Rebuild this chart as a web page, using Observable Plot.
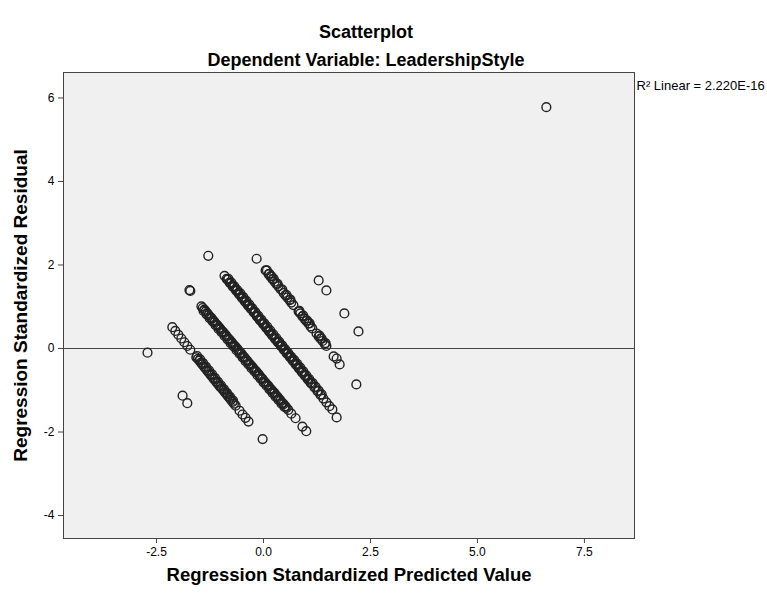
<!DOCTYPE html>
<html><head><meta charset="utf-8">
<script src="https://cdn.jsdelivr.net/npm/d3@7"></script>
<script src="https://cdn.jsdelivr.net/npm/@observablehq/plot@0.6"></script>
<style>
body{margin:0;background:#fff;font-family:"Liberation Sans",Arial,sans-serif;}
#wrap{position:relative;width:767px;height:595px;}
.t{position:absolute;left:0;width:732px;text-align:center;font-weight:bold;font-size:18px;line-height:20px;color:#000;}
#chart{position:absolute;left:0;top:66px;}
</style></head><body>
<div id="wrap">
<div class="t" style="top:22px">Scatterplot</div>
<div class="t" style="top:50px">Dependent Variable: LeadershipStyle</div>
<div id="chart"></div>
</div>
<script>
const xTicks = [-2.5, 0, 2.5, 5, 7.5];
const yTicks = [-4, -2, 0, 2, 4, 6];
const xLabel = "Regression Standardized Predicted Value";
const yLabel = "Regression Standardized Residual";
const r2Label = "R² Linear = 2.220E-16";

const groupA_x = [1.29, 1.47, 1.89, 2.22];
const groupA_y = [1.63, 1.39, 0.84, 0.41];

const groupB_x = [-0.16, 0.05, 0.08, 0.12, 0.14, 0.16, 0.19, 0.21, 0.24, 0.26, 0.30, 0.33, 0.35, 0.40, 0.44, 0.47, 0.51, 0.54, 0.56, 0.61, 0.63, 0.65, 0.70, 0.82, 0.84, 0.86, 0.91, 0.93, 0.96, 1.00, 1.02, 1.05, 1.08, 1.10, 1.14, 1.24, 1.29, 1.31, 1.33, 1.36, 1.38, 1.43, 1.45, 1.47, 1.64, 1.71, 1.78, 2.17];
const groupB_y = [2.15, 1.87, 1.87, 1.78, 1.79, 1.73, 1.73, 1.66, 1.67, 1.60, 1.55, 1.55, 1.49, 1.42, 1.41, 1.33, 1.28, 1.28, 1.22, 1.16, 1.17, 1.10, 1.04, 0.89, 0.90, 0.84, 0.77, 0.79, 0.71, 0.66, 0.67, 0.60, 0.60, 0.53, 0.48, 0.36, 0.29, 0.31, 0.24, 0.24, 0.18, 0.11, 0.13, 0.06, -0.19, -0.24, -0.38, -0.86];

const groupC_x = [-1.29, -0.91, -0.86, -0.84, -0.79, -0.77, -0.72, -0.70, -0.65, -0.63, -0.58, -0.56, -0.51, -0.49, -0.44, -0.42, -0.37, -0.35, -0.30, -0.28, -0.23, -0.21, -0.16, -0.14, -0.09, -0.07, -0.02, 0.00, 0.05, 0.07, 0.12, 0.14, 0.19, 0.21, 0.26, 0.28, 0.33, 0.35, 0.40, 0.42, 0.47, 0.49, 0.54, 0.56, 0.61, 0.63, 0.68, 0.70, 0.75, 0.77, 0.82, 0.84, 0.89, 0.91, 0.96, 0.98, 1.03, 1.05, 1.10, 1.12, 1.19, 1.26, 1.33, 1.40, 1.47, 1.54, 1.61, 1.71];
const groupC_y = [2.22, 1.74, 1.67, 1.65, 1.58, 1.56, 1.49, 1.47, 1.41, 1.38, 1.32, 1.29, 1.23, 1.20, 1.14, 1.11, 1.05, 1.02, 0.96, 0.94, 0.87, 0.85, 0.78, 0.76, 0.69, 0.67, 0.61, 0.58, 0.52, 0.49, 0.43, 0.40, 0.34, 0.31, 0.25, 0.22, 0.16, 0.14, 0.07, 0.05, -0.02, -0.04, -0.11, -0.13, -0.19, -0.22, -0.28, -0.31, -0.37, -0.40, -0.46, -0.49, -0.55, -0.58, -0.64, -0.66, -0.73, -0.75, -0.82, -0.84, -0.93, -1.02, -1.11, -1.20, -1.29, -1.38, -1.46, -1.65];
const groupC2_x = [-0.82, -0.75, -0.68, -0.61, -0.54, -0.47, -0.40, -0.33, -0.26, -0.19, -0.12, -0.05, 0.02, 0.09, 0.16, 0.23, 0.30, 0.37, 0.44, 0.51, 0.58, 0.65, 0.72, 0.79, 0.86, 0.93, 1.00, 1.07, 1.15, 1.22, 1.29, 1.36];
const groupC2_y = [1.67, 1.58, 1.49, 1.40, 1.32, 1.23, 1.14, 1.05, 0.96, 0.87, 0.78, 0.69, 0.60, 0.52, 0.43, 0.34, 0.25, 0.16, 0.07, -0.02, -0.11, -0.20, -0.28, -0.37, -0.46, -0.55, -0.64, -0.73, -0.83, -0.92, -1.01, -1.10];

const groupD_x = [-1.73, -1.71, -1.45, -1.42, -1.38, -1.35, -1.31, -1.28, -1.24, -1.21, -1.17, -1.14, -1.10, -1.07, -1.03, -1.00, -0.96, -0.93, -0.89, -0.86, -0.82, -0.79, -0.75, -0.72, -0.68, -0.65, -0.61, -0.58, -0.54, -0.51, -0.47, -0.44, -0.40, -0.37, -0.33, -0.30, -0.26, -0.23, -0.19, -0.16, -0.12, -0.09, -0.05, -0.02, 0.02, 0.05, 0.09, 0.12, 0.16, 0.19, 0.23, 0.26, 0.30, 0.33, 0.37, 0.40, 0.44, 0.47, 0.51, 0.54, 0.58, 0.65, 0.75, 0.91, 1.00];
const groupD_y = [1.40, 1.38, 1.01, 0.97, 0.93, 0.89, 0.84, 0.80, 0.75, 0.72, 0.67, 0.63, 0.58, 0.55, 0.50, 0.46, 0.41, 0.38, 0.33, 0.29, 0.24, 0.21, 0.16, 0.12, 0.07, 0.04, -0.01, -0.05, -0.10, -0.13, -0.19, -0.22, -0.27, -0.31, -0.36, -0.39, -0.44, -0.48, -0.53, -0.56, -0.61, -0.65, -0.70, -0.73, -0.79, -0.82, -0.87, -0.90, -0.96, -0.99, -1.04, -1.07, -1.13, -1.16, -1.21, -1.25, -1.30, -1.33, -1.38, -1.42, -1.47, -1.56, -1.67, -1.87, -1.98];
const groupD2_x = [-1.40, -1.33, -1.26, -1.19, -1.12, -1.05, -0.98, -0.91, -0.84, -0.77, -0.70, -0.63, -0.56, -0.49, -0.42, -0.35, -0.28, -0.21, -0.14, -0.07, 0.00, 0.07, 0.14, 0.21, 0.28, 0.35, 0.42, 0.49];
const groupD2_y = [0.90, 0.82, 0.73, 0.65, 0.56, 0.47, 0.39, 0.30, 0.22, 0.13, 0.05, -0.04, -0.12, -0.21, -0.30, -0.38, -0.47, -0.55, -0.64, -0.72, -0.81, -0.89, -0.98, -1.06, -1.15, -1.23, -1.32, -1.40];

const groupE_x = [-2.13, -2.06, -1.99, -1.92, -1.85, -1.78, -1.71, -1.57, -1.53, -1.50, -1.46, -1.43, -1.39, -1.36, -1.32, -1.29, -1.25, -1.22, -1.18, -1.15, -1.11, -1.08, -1.04, -1.01, -0.97, -0.93, -0.90, -0.86, -0.83, -0.79, -0.76, -0.72, -0.69, -0.65, -0.56, -0.49, -0.42, -0.35, -0.02];
const groupE_y = [0.51, 0.42, 0.33, 0.24, 0.15, 0.06, -0.03, -0.21, -0.25, -0.29, -0.34, -0.38, -0.43, -0.47, -0.52, -0.56, -0.61, -0.65, -0.70, -0.74, -0.79, -0.83, -0.88, -0.92, -0.96, -1.01, -1.05, -1.10, -1.14, -1.19, -1.23, -1.28, -1.32, -1.37, -1.49, -1.58, -1.66, -1.75, -2.17];
const groupE2_x = [-1.55, -1.48, -1.41, -1.34, -1.27, -1.20, -1.13, -1.06, -0.99, -0.92, -0.85, -0.78, -0.71];
const groupE2_y = [-0.18, -0.26, -0.35, -0.44, -0.53, -0.62, -0.71, -0.80, -0.89, -0.98, -1.07, -1.16, -1.25];

const groupF_x = [-2.71, -1.89, -1.78];
const groupF_y = [-0.10, -1.13, -1.31];

const outlier_x = [6.61];
const outlier_y = [5.78];

const groups = [
  [groupA_x, groupA_y], [groupB_x, groupB_y], [groupC_x, groupC_y], [groupC2_x, groupC2_y],
  [groupD_x, groupD_y], [groupD2_x, groupD2_y], [groupE_x, groupE_y], [groupE2_x, groupE2_y],
  [groupF_x, groupF_y], [outlier_x, outlier_y]
];
const points = [];
for (const [xs, ys] of groups) xs.forEach((x, i) => points.push({x, y: ys[i]}));

const plot = Plot.plot({
  width: 767,
  height: 529,
  marginTop: 6,
  marginBottom: 57,
  marginLeft: 63,
  marginRight: 133,
  style: {fontFamily: "'Liberation Sans', Arial, sans-serif", fontSize: "12px", color: "#000", background: "transparent", overflow: "visible"},
  x: {domain: [-4.673, 8.67]},
  y: {domain: [-4.55, 6.61]},
  marks: [
    Plot.frame({fill: "#f0f0f0", stroke: null}),
    Plot.ruleY([0], {stroke: "#444", strokeWidth: 1}),
    Plot.dot(points, {x: "x", y: "y", r: 4.4, stroke: "#222", strokeWidth: 1.4, fill: "none"}),
    Plot.frame({stroke: "#444", strokeWidth: 1}),
    Plot.axisX({ticks: xTicks, tickFormat: d => d.toFixed(1), tickSize: 5, tickPadding: 4, fontSize: 12, label: null, stroke: "#444"}),
    Plot.axisY({ticks: yTicks, tickFormat: d => String(d), tickSize: 5, tickPadding: 4, fontSize: 12, label: null, stroke: "#444"}),
    Plot.text([xLabel], {frameAnchor: "bottom", dy: 42, fontWeight: "bold", fontSize: 18.5, fill: "#000"}),
    Plot.text([yLabel], {frameAnchor: "left", textAnchor: "middle", rotate: -90, dx: -43, fontWeight: "bold", fontSize: 19, fill: "#000"}),
    Plot.text([r2Label], {frameAnchor: "top-right", textAnchor: "start", dx: 2, dy: 8, fontSize: 13, fill: "#000"})
  ]
});
document.getElementById("chart").appendChild(plot);
</script>
</body></html>
